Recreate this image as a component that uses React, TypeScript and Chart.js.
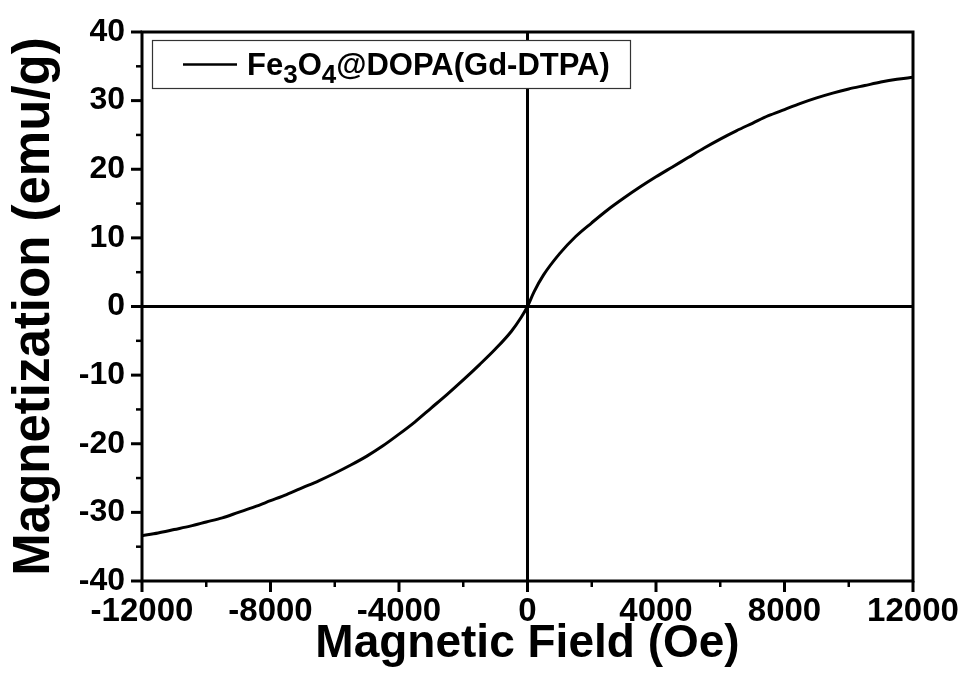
import React, { useEffect, useRef } from 'react';
import { Chart, registerables } from 'chart.js';

Chart.register(...registerables);

// Applied field (Oe)
const fieldOe = [
  -12000, -11500, -11000, -10500, -10000, -9500, -9000, -8500, -8000, -7500,
  -7000, -6500, -6000, -5500, -5000, -4500, -4000, -3500, -3000, -2500,
  -2000, -1500, -1000, -500, -200, 0, 200, 500, 1000, 1500,
  2000, 2500, 3000, 3500, 4000, 4500, 5000, 5500, 6000, 6500,
  7000, 7500, 8000, 8500, 9000, 9500, 10000, 10500, 11000, 11500, 12000,
];

// Magnetization (emu/g)
const magnetization = [
  -33.4, -33.0, -32.5, -32.0, -31.4, -30.8, -30.0, -29.2, -28.3, -27.4,
  -26.4, -25.4, -24.3, -23.1, -21.8, -20.3, -18.6, -16.8, -14.8, -12.8,
  -10.7, -8.5, -6.2, -3.6, -1.6, 0, 2.1, 4.6, 7.7, 10.2,
  12.2, 14.1, 15.8, 17.4, 18.9, 20.3, 21.7, 23.1, 24.4, 25.6,
  26.7, 27.8, 28.7, 29.6, 30.4, 31.1, 31.7, 32.2, 32.7, 33.1, 33.4,
];

const xMajorTicks = [-12000, -8000, -4000, 0, 4000, 8000, 12000];
const xMinorTicks = [-10000, -6000, -2000, 2000, 6000, 10000];
const yMajorTicks = [-40, -30, -20, -10, 0, 10, 20, 30, 40];
const yMinorTicks = [-35, -25, -15, -5, 5, 15, 25, 35];

const seriesLabel = 'Fe3O4@DOPA(Gd-DTPA)';
// label split into [text, isSubscript]
const legendParts: [string, boolean][] = [
  ['Fe', false],
  ['3', true],
  ['O', false],
  ['4', true],
  ['@DOPA(Gd-DTPA)', false],
];

const xTitle = 'Magnetic Field (Oe)';
const yTitle = 'Magnetization (emu/g)';

const FONT = '"Liberation Sans", Arial, sans-serif';

const framePlugin = {
  id: 'framePlugin',
  afterDraw(chart: any) {
    const ctx = chart.ctx;
    const { left, right, top, bottom } = chart.chartArea;
    const xs = chart.scales.x;
    const ys = chart.scales.y;
    ctx.save();
    ctx.strokeStyle = '#000';
    ctx.lineCap = 'butt';
    const drawX = (v: number, len: number, w: number) => {
      const px = xs.getPixelForValue(v);
      ctx.lineWidth = w;
      ctx.beginPath();
      ctx.moveTo(px, bottom);
      ctx.lineTo(px, bottom + len);
      ctx.stroke();
    };
    const drawY = (v: number, len: number, w: number) => {
      const py = ys.getPixelForValue(v);
      ctx.lineWidth = w;
      ctx.beginPath();
      ctx.moveTo(left, py);
      ctx.lineTo(left - len, py);
      ctx.stroke();
    };
    xMajorTicks.forEach((v) => drawX(v, 11, 3));
    xMinorTicks.forEach((v) => drawX(v, 6, 2.5));
    yMajorTicks.forEach((v) => drawY(v, 11, 3));
    yMinorTicks.forEach((v) => drawY(v, 6, 2.5));

    // legend
    const lx = left + 10;
    const ly = top + 8;
    const lw = 478;
    const lh = 48;
    ctx.fillStyle = '#fff';
    ctx.fillRect(lx + 0.5, ly + 0.5, lw, lh);
    ctx.lineWidth = 1.2;
    ctx.strokeStyle = '#333';
    ctx.strokeRect(lx + 0.5, ly + 0.5, lw, lh);
    const cy = ly + lh / 2 + 0.5;
    ctx.strokeStyle = '#000';
    ctx.lineWidth = 2.5;
    ctx.beginPath();
    ctx.moveTo(lx + 31, cy);
    ctx.lineTo(lx + 85, cy);
    ctx.stroke();
    ctx.fillStyle = '#000';
    ctx.textBaseline = 'alphabetic';
    ctx.textAlign = 'left';
    let tx = lx + 95;
    const base = cy + 10;
    legendParts.forEach(([t, sub]) => {
      ctx.font = sub ? `bold 26px ${FONT}` : `bold 31px ${FONT}`;
      ctx.fillText(t, tx, sub ? base + 8 : base);
      tx += ctx.measureText(t).width;
    });

    // frame
    ctx.strokeStyle = '#000';
    ctx.lineWidth = 3;
    ctx.strokeRect(left, top, right - left, bottom - top);
    ctx.restore();
  },
};

const zeroPadding = (s: any) => {
  s.paddingLeft = 0;
  s.paddingRight = 0;
  s.paddingTop = 0;
  s.paddingBottom = 0;
};

export default function App() {
  const ref = useRef<HTMLCanvasElement>(null);
  useEffect(() => {
    document.body.style.margin = '0';
    document.body.style.overflow = 'hidden';
    const canvas = ref.current;
    if (!canvas) return;
    const chart = new Chart(canvas, {
      type: 'line',
      data: {
        datasets: [
          {
            label: seriesLabel,
            data: fieldOe.map((x, i) => ({ x, y: magnetization[i] })),
            borderColor: '#000',
            borderWidth: 3,
            pointRadius: 0,
            fill: false,
            cubicInterpolationMode: 'monotone',
          },
        ],
      },
      options: {
        responsive: false,
        animation: false,
        layout: { padding: { top: 32, right: 53, left: 0, bottom: 0 } },
        plugins: {
          legend: { display: false },
          tooltip: { enabled: false },
        },
        scales: {
          x: {
            type: 'linear',
            min: -12000,
            max: 12000,
            afterFit: (s: any) => {
              s.height = 101;
              zeroPadding(s);
            },
            ticks: {
              stepSize: 4000,
              autoSkip: false,
              maxRotation: 0,
              padding: 11,
              color: '#000',
              font: { family: FONT, size: 33, weight: 'bold' },
              callback: (v: any) => String(v),
            },
            grid: {
              drawTicks: false,
              lineWidth: 3,
              color: (c: any) => (c.tick && c.tick.value === 0 ? '#000' : 'rgba(0,0,0,0)'),
            },
            border: { display: false },
            title: {
              display: true,
              text: xTitle,
              color: '#000',
              font: { family: FONT, size: 46, weight: 'bold' },
              padding: { top: 0, bottom: 10 },
            },
          },
          y: {
            type: 'linear',
            min: -40,
            max: 40,
            afterFit: (s: any) => {
              s.width = 142;
              zeroPadding(s);
            },
            ticks: {
              stepSize: 10,
              autoSkip: false,
              padding: 17,
              color: '#000',
              font: { family: FONT, size: 32, weight: 'bold' },
              callback: (v: any) => String(v),
            },
            grid: {
              drawTicks: false,
              lineWidth: 3,
              color: (c: any) => (c.tick && c.tick.value === 0 ? '#000' : 'rgba(0,0,0,0)'),
            },
            border: { display: false },
            title: {
              display: true,
              text: yTitle,
              color: '#000',
              font: { family: FONT, size: 51, weight: 'bold' },
              padding: { top: 4, bottom: 0 },
            },
          },
        },
      },
      plugins: [framePlugin],
    });
    return () => chart.destroy();
  }, []);
  return <canvas ref={ref} width={966} height={682} style={{ display: 'block' }} />;
}
